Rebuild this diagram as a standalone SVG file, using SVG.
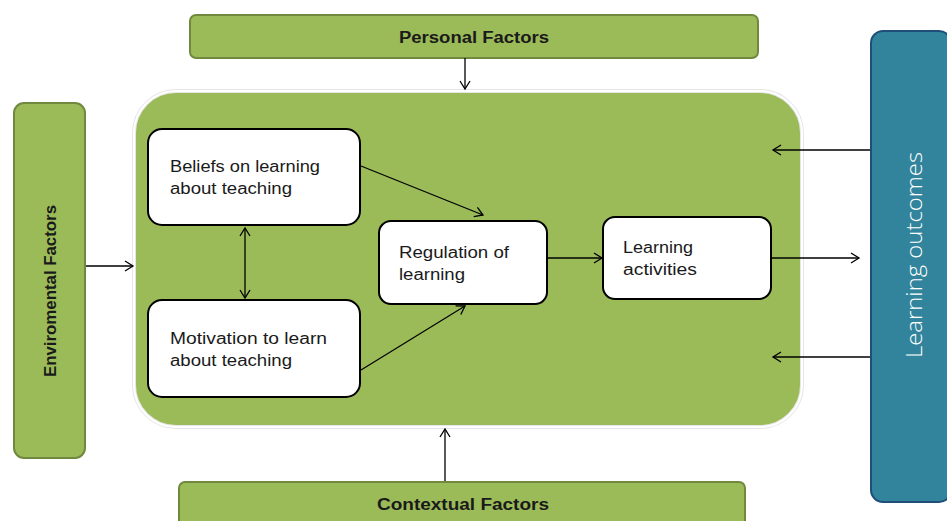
<svg xmlns="http://www.w3.org/2000/svg" width="947" height="521" viewBox="0 0 947 521">
<style>
.fac{fill:#9BBB59;stroke:#71893F;stroke-width:2}
.inner{fill:#ffffff;stroke:#000000;stroke-width:2}
.lbl{font-family:"Liberation Sans",Arial,sans-serif;font-size:16px;fill:#1a1a1a}
.blbl{font-family:"Liberation Sans",Arial,sans-serif;font-size:16px;font-weight:bold;fill:#1a1a1a}
.con{fill:none;stroke:#000000;stroke-width:1.3;marker-end:url(#ah)}
</style>
<defs>
<marker id="ah" markerWidth="12" markerHeight="12" refX="10" refY="6" orient="auto" markerUnits="userSpaceOnUse">
<polyline points="2,1 10,6 2,11" fill="none" stroke="#000" stroke-width="1.3"/>
</marker>
<marker id="ahs" markerWidth="12" markerHeight="12" refX="2" refY="6" orient="auto" markerUnits="userSpaceOnUse">
<polyline points="10,1 2,6 10,11" fill="none" stroke="#000" stroke-width="1.3"/>
</marker>
</defs>
<rect width="947" height="521" fill="#ffffff"/>

<g id="container">
<rect x="134" y="91" width="668" height="336" rx="42" fill="#9BBB59" stroke="#e6e6e6" stroke-width="4"/>
<rect x="134" y="91" width="668" height="336" rx="42" fill="none" stroke="#ffffff" stroke-width="2"/>
</g>

<g id="personal">
<rect class="fac" x="190" y="15" width="568" height="43" rx="6"/>
<text class="blbl" x="474" y="43" text-anchor="middle" textLength="150" lengthAdjust="spacingAndGlyphs">Personal Factors</text>
</g>

<g id="contextual">
<rect class="fac" x="179" y="482" width="566" height="50" rx="6"/>
<text class="blbl" x="463" y="510" text-anchor="middle" textLength="172" lengthAdjust="spacingAndGlyphs">Contextual Factors</text>
</g>

<g id="environmental">
<rect class="fac" x="14" y="103" width="71" height="355" rx="10"/>
<text class="blbl" transform="translate(56,291) rotate(-90)" text-anchor="middle" textLength="172" lengthAdjust="spacingAndGlyphs">Enviromental Factors</text>
</g>

<g id="outcomes">
<rect x="871" y="31" width="80" height="471" rx="12" fill="#31849B" stroke="#1F4E79" stroke-width="2"/>
<text transform="translate(922,255) rotate(-90)" text-anchor="middle" font-family="'Open Sans','Liberation Sans',sans-serif" font-weight="300" font-size="22" fill="#ffffff" textLength="206" lengthAdjust="spacingAndGlyphs">Learning outcomes</text>
</g>

<g id="beliefs">
<rect class="inner" x="148" y="129" width="212" height="96" rx="14"/>
<text class="lbl" x="170" y="172" textLength="150" lengthAdjust="spacingAndGlyphs">Beliefs on learning</text>
<text class="lbl" x="170" y="194" textLength="122" lengthAdjust="spacingAndGlyphs">about teaching</text>
</g>

<g id="motivation">
<rect class="inner" x="148" y="300" width="212" height="97" rx="14"/>
<text class="lbl" x="170" y="344" textLength="157" lengthAdjust="spacingAndGlyphs">Motivation to learn</text>
<text class="lbl" x="170" y="366" textLength="122" lengthAdjust="spacingAndGlyphs">about teaching</text>
</g>

<g id="regulation">
<rect class="inner" x="379" y="221" width="168" height="83" rx="12"/>
<text class="lbl" x="399" y="258" textLength="110" lengthAdjust="spacingAndGlyphs">Regulation of</text>
<text class="lbl" x="399" y="280" textLength="66" lengthAdjust="spacingAndGlyphs">learning</text>
</g>

<g id="activities">
<rect class="inner" x="603" y="217" width="168" height="82" rx="12"/>
<text class="lbl" x="623" y="253" textLength="70" lengthAdjust="spacingAndGlyphs">Learning</text>
<text class="lbl" x="623" y="275" textLength="74" lengthAdjust="spacingAndGlyphs">activities</text>
</g>

<g id="connectors">
<line class="con" x1="465" y1="58" x2="465" y2="89"/>
<line class="con" x1="445" y1="481" x2="445" y2="429"/>
<line class="con" x1="86" y1="266" x2="133" y2="266"/>
<line class="con" x1="870" y1="150" x2="773" y2="150"/>
<line class="con" x1="870" y1="357" x2="773" y2="357"/>
<line class="con" x1="772" y1="258" x2="859" y2="258"/>
<line class="con" x1="361" y1="166" x2="483" y2="215"/>
<line class="con" x1="361" y1="370" x2="465" y2="306"/>
<line class="con" x1="548" y1="258" x2="602" y2="258"/>
<line class="con" x1="245" y1="228" x2="245" y2="298" marker-start="url(#ahs)"/>
</g>
</svg>
